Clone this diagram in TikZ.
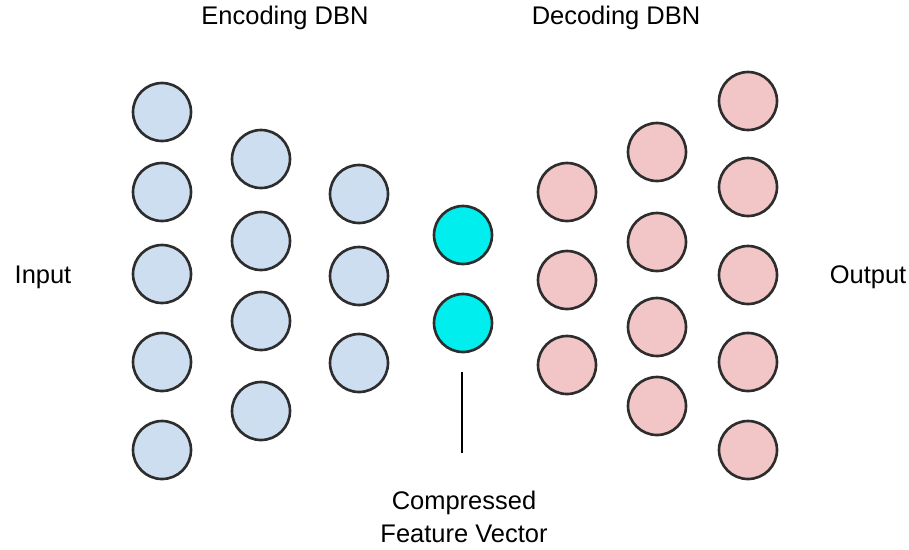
\documentclass[tikz,border=0pt]{standalone}
\usepackage{fontspec}
\setmainfont{Liberation Sans}
\usepackage{tikz}
\usetikzlibrary{positioning}

\definecolor{encblue}{RGB}{205,222,240}
\definecolor{decpink}{RGB}{242,198,198}
\definecolor{codecyan}{RGB}{0,238,238}
\definecolor{rimgray}{RGB}{45,45,45}

\begin{document}
\begin{tikzpicture}[
    x=0.02cm, y=-0.02cm,
    font=\fontsize{14.5}{18.8}\selectfont,
    % Units
    unit/.style={circle, draw=rimgray, line width=1.5pt, minimum size=1.16cm, inner sep=0pt},
    enc/.style ={unit, fill=encblue},
    code/.style={unit, fill=codecyan},
    dec/.style ={unit, fill=decpink},
    lbl/.style ={align=center, inner sep=0pt}
]
\useasboundingbox (0,0) rectangle (909,549);

% Titles
\node[lbl] (enct) at (285,18) {Encoding DBN};
\node[lbl] (dect) at (616,18) {Decoding DBN};

% Side labels
\node[lbl] (inp) at (43,277) {Input};
\node[lbl] (outp) at (868,277) {Output};

% --------------------------- Encoder ---------------------------------
\foreach \y [count=\i] in {112,192,274,362,450}
    \node[enc] (a\i) at (162,\y) {};
\foreach \y [count=\i] in {159,241,321,411}
    \node[enc] (b\i) at (261,\y) {};
\foreach \y [count=\i] in {194,276,363}
    \node[enc] (c\i) at (359,\y) {};

% --------------------------- Code layer ------------------------------
\node[code] (f1) at (463,235) {};
\node[code] (f2) at (463,323) {};

% --------------------------- Decoder ---------------------------------
\foreach \y [count=\i] in {192,280,365}
    \node[dec] (d\i) at (567,\y) {};
\foreach \y [count=\i] in {152,242,327,406}
    \node[dec] (e\i) at (657,\y) {};
\foreach \y [count=\i] in {101,187,275,362,450}
    \node[dec] (g\i) at (748,\y) {};

% Compressed feature vector
\node[lbl] (cfv) at (464,517) {Compressed\\Feature Vector};
\coordinate (tick1) at (462,372);
\coordinate (tick2) at (462,453);
\draw[line width=1.2pt] (tick1) -- (tick2);

\end{tikzpicture}
\end{document}
